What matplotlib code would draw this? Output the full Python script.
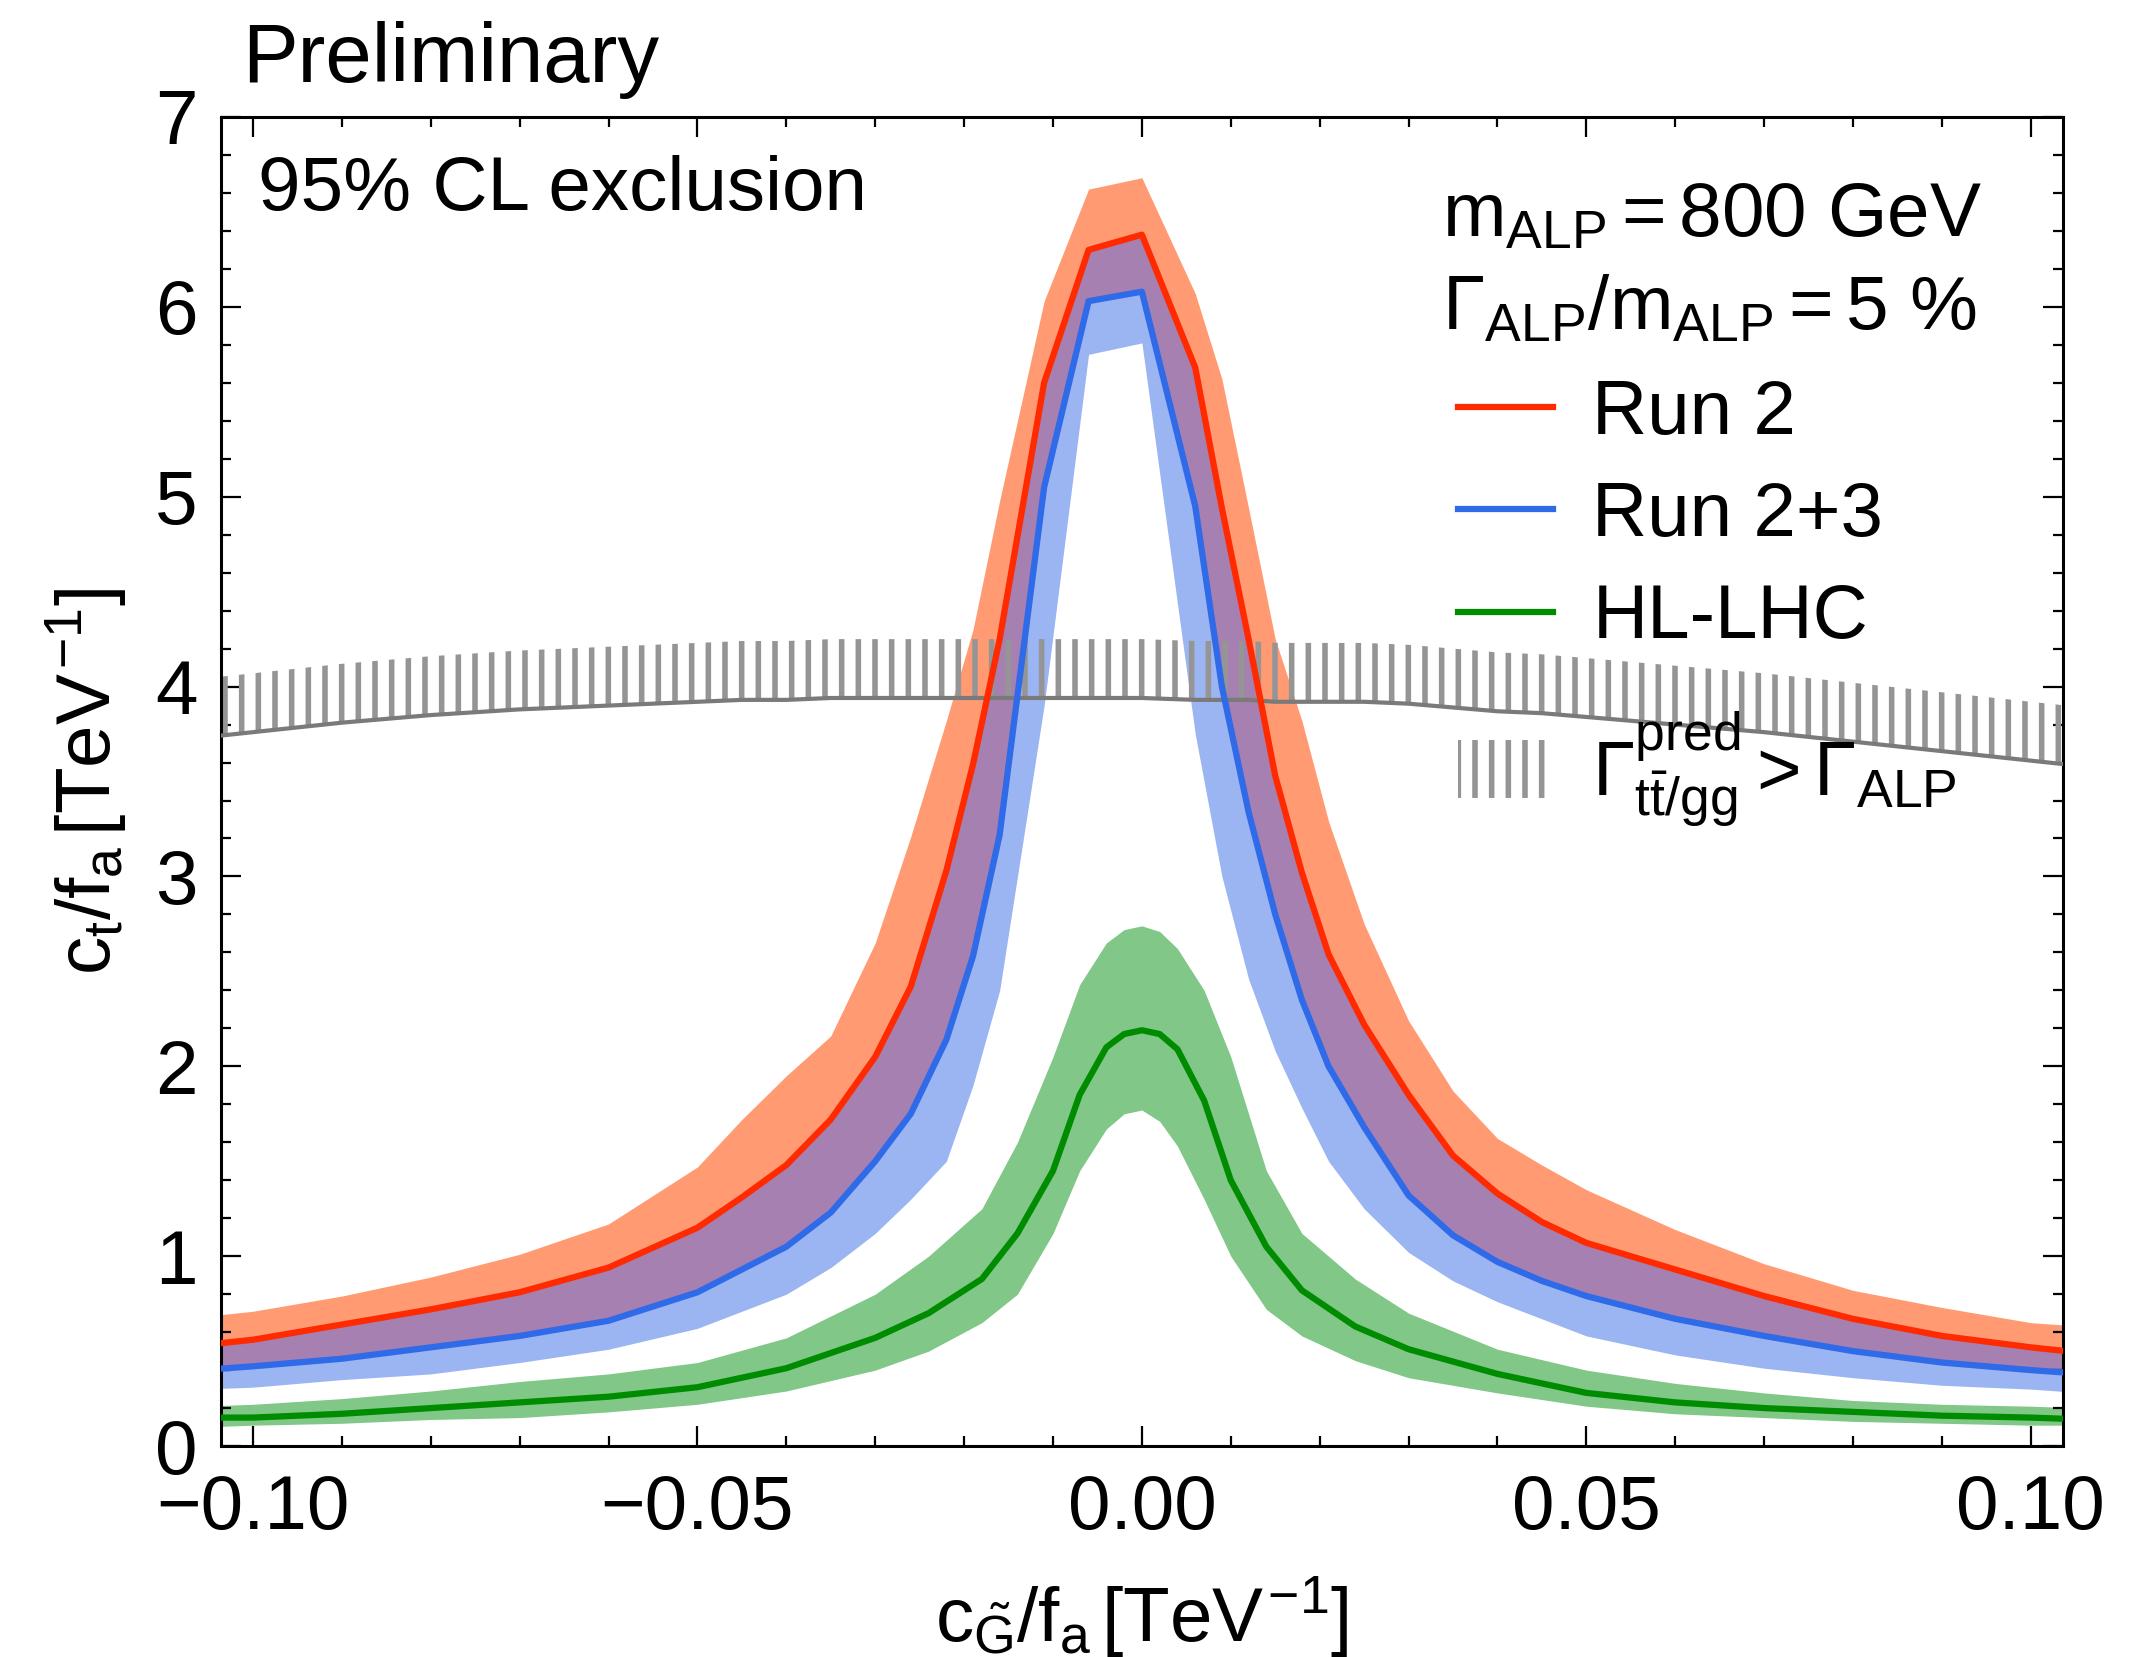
import numpy as np
import matplotlib
matplotlib.use('Agg')
import matplotlib.pyplot as plt
from matplotlib.lines import Line2D
from matplotlib.patches import Patch
from matplotlib.ticker import MultipleLocator, FuncFormatter

plt.rcParams['font.family'] = ['Liberation Sans', 'DejaVu Sans']
plt.rcParams['mathtext.fontset'] = 'custom'
plt.rcParams['mathtext.rm'] = 'Liberation Sans'
plt.rcParams['mathtext.it'] = 'Liberation Sans'
plt.rcParams['mathtext.sf'] = 'Liberation Sans'
plt.rcParams['mathtext.bf'] = 'Liberation Sans:bold'
plt.rcParams['hatch.linewidth'] = 4.0

# c_G/f_a scan points [TeV^-1] for the Run 2 / Run 2+3 limits
cg = [-0.106, -0.10, -0.09, -0.08, -0.07, -0.06, -0.05, -0.045, -0.040, -0.035,
      -0.030, -0.026, -0.022, -0.019, -0.016, -0.011, -0.006, 0.0, 0.006, 0.009,
      0.012, 0.015, 0.018, 0.021, 0.025, 0.030, 0.035, 0.040, 0.045, 0.05,
      0.06, 0.07, 0.08, 0.09, 0.10, 0.106]

# Run 2 expected limit and upper edge of its band
run2 = [0.53, 0.56, 0.64, 0.72, 0.81, 0.94, 1.15, 1.31, 1.48, 1.72,
        2.05, 2.42, 3.03, 3.59, 4.25, 5.60, 6.30, 6.38, 5.68, 4.94,
        4.25, 3.53, 3.02, 2.59, 2.22, 1.85, 1.53, 1.33, 1.18, 1.07,
        0.93, 0.79, 0.67, 0.58, 0.52, 0.49]
run2_up = [0.68, 0.71, 0.79, 0.89, 1.01, 1.17, 1.47, 1.72, 1.95, 2.16,
           2.65, 3.21, 3.82, 4.30, 4.98, 6.03, 6.62, 6.68, 6.07, 5.62,
           4.94, 4.25, 3.82, 3.29, 2.75, 2.24, 1.87, 1.62, 1.48, 1.35,
           1.14, 0.96, 0.82, 0.73, 0.65, 0.63]

# Run 2+3 expected limit and lower edge of its band
run23 = [0.40, 0.42, 0.46, 0.52, 0.58, 0.66, 0.81, 0.93, 1.05, 1.23,
         1.50, 1.75, 2.14, 2.58, 3.22, 5.05, 6.03, 6.08, 4.95, 4.00,
         3.34, 2.80, 2.35, 2.00, 1.68, 1.32, 1.11, 0.97, 0.87, 0.79,
         0.67, 0.58, 0.50, 0.44, 0.40, 0.38]
run23_dn = [0.30, 0.31, 0.35, 0.38, 0.44, 0.51, 0.62, 0.71, 0.80, 0.94,
            1.12, 1.30, 1.50, 1.90, 2.40, 3.90, 5.75, 5.81, 3.75, 3.00,
            2.46, 2.08, 1.78, 1.50, 1.25, 1.02, 0.87, 0.76, 0.67, 0.58,
            0.48, 0.41, 0.36, 0.32, 0.30, 0.28]

# boundary where the predicted ttbar/gg width exceeds the ALP width
width_lim = [3.73, 3.76, 3.81, 3.85, 3.88, 3.90, 3.92, 3.93, 3.93, 3.94,
             3.94, 3.94, 3.94, 3.94, 3.94, 3.94, 3.94, 3.94, 3.93, 3.93,
             3.93, 3.92, 3.92, 3.92, 3.92, 3.91, 3.89, 3.87, 3.86, 3.84,
             3.80, 3.76, 3.71, 3.66, 3.61, 3.58]

# HL-LHC projection (finer scan around the peak)
cg_hl = [-0.106, -0.10, -0.09, -0.08, -0.07, -0.06, -0.05, -0.04, -0.03, -0.024,
         -0.018, -0.014, -0.010, -0.007, -0.004, -0.002, 0.0, 0.002, 0.004, 0.007,
         0.010, 0.014, 0.018, 0.024, 0.03, 0.04, 0.05, 0.06, 0.07, 0.08,
         0.09, 0.10, 0.106]
hl = [0.15, 0.15, 0.17, 0.20, 0.23, 0.26, 0.31, 0.41, 0.57, 0.70,
      0.88, 1.12, 1.45, 1.85, 2.10, 2.17, 2.19, 2.17, 2.09, 1.82,
      1.40, 1.05, 0.82, 0.63, 0.51, 0.38, 0.28, 0.23, 0.20, 0.18,
      0.16, 0.15, 0.14]
hl_up = [0.21, 0.22, 0.25, 0.29, 0.34, 0.38, 0.44, 0.57, 0.80, 1.00,
         1.25, 1.60, 2.05, 2.43, 2.65, 2.72, 2.74, 2.71, 2.62, 2.40,
         2.05, 1.45, 1.12, 0.88, 0.70, 0.51, 0.40, 0.33, 0.28, 0.24,
         0.22, 0.21, 0.20]
hl_dn = [0.10, 0.11, 0.12, 0.14, 0.15, 0.18, 0.22, 0.29, 0.40, 0.50,
         0.65, 0.80, 1.12, 1.45, 1.67, 1.75, 1.77, 1.71, 1.58, 1.30,
         1.00, 0.72, 0.58, 0.45, 0.36, 0.28, 0.21, 0.17, 0.15, 0.13,
         0.12, 0.11, 0.11]

c_red, c_red_band = '#ff2a00', '#ff9a72'
c_blue, c_blue_band = '#2f6ae8', '#9bb5f2'
c_mix = '#a680b0'
c_green, c_green_band = '#008c00', '#80c788'
c_hatch, c_edge = '#959595', '#7a7a7a'
fs = 55

fig, ax = plt.subplots(figsize=(21.31, 16.57), dpi=100)
fig.subplots_adjust(left=0.1037, right=0.968, bottom=0.1273, top=0.9294)

ax.fill_between(cg, run2, run2_up, color=c_red_band, lw=0, zorder=1)
ax.fill_between(cg, run23, run2, color=c_mix, lw=0, zorder=1)
ax.fill_between(cg, run23_dn, run23, color=c_blue_band, lw=0, zorder=1)
ax.fill_between(cg_hl, hl_dn, hl_up, color=c_green_band, lw=0, zorder=1)

wl = np.array(width_lim)
ax.fill_between(cg, wl, wl + 0.31, facecolor='none', edgecolor=c_hatch,
                hatch='|', lw=0, zorder=2)
ax.plot(cg, wl, color=c_edge, lw=3, zorder=3)

ax.plot(cg, run2, color=c_red, lw=4.5, zorder=4)
ax.plot(cg, run23, color=c_blue, lw=4.5, zorder=4)
ax.plot(cg_hl, hl, color=c_green, lw=4.5, zorder=4)

ax.set_xlim(-0.1036, 0.1036)
ax.set_ylim(0, 7)
ax.xaxis.set_major_locator(MultipleLocator(0.05))
ax.xaxis.set_minor_locator(MultipleLocator(0.01))
ax.yaxis.set_major_locator(MultipleLocator(1))
ax.yaxis.set_minor_locator(MultipleLocator(0.2))


def fmt_x(v, pos):
    if abs(v) < 1e-9:
        v = 0.0
    return f'{v:.2f}'.replace('-', '\u2212')


ax.xaxis.set_major_formatter(FuncFormatter(fmt_x))
ax.tick_params(which='both', direction='in', top=True, right=True,
               width=1.6, labelsize=fs)
ax.tick_params(which='major', length=14.5)
ax.tick_params(which='minor', length=7.5)
ax.tick_params(axis='x', pad=20)
ax.tick_params(axis='y', pad=17)
for s in ax.spines.values():
    s.set_linewidth(2.2)

ax.set_xlabel(r'$c_{\tilde{G}}/f_a\,[TeV^{-1}]$', fontsize=fs)
ax.set_ylabel(r'$c_t/f_a\,[TeV^{-1}]$', fontsize=fs)
ax.xaxis.set_label_coords(0.5, -0.097)
ax.yaxis.set_label_coords(-0.050, 0.5)

fig.text(0.1136, 0.9505, 'Preliminary', fontsize=60, va='baseline')
ax.text(0.020, 0.945, '95% CL exclusion', transform=ax.transAxes,
        fontsize=fs, va='center')
ax.text(0.663, 0.925, r'$m_{ALP} = 800\ GeV$', transform=ax.transAxes,
        fontsize=fs, va='center')
ax.text(0.663, 0.855, r'$\Gamma_{ALP}/m_{ALP} = 5\ \%$', transform=ax.transAxes,
        fontsize=fs, va='center')

line_handles = [Line2D([], [], color=c_red, lw=4.5),
                Line2D([], [], color=c_blue, lw=4.5),
                Line2D([], [], color=c_green, lw=4.5)]
leg = ax.legend(line_handles, ['Run 2', 'Run 2+3', 'HL-LHC'], loc='upper left',
                bbox_to_anchor=(0.6716, 0.803), frameon=False, borderpad=0,
                borderaxespad=0, handlelength=1.24, handletextpad=0.52,
                labelspacing=0.41, fontsize=fs)
ax.add_artist(leg)

hatch_handle = Patch(facecolor='none', edgecolor=c_hatch, hatch='|', lw=0)
ax.legend([hatch_handle], [r'$\Gamma^{pred}_{t\bar{t}/gg} > \Gamma_{ALP}$'],
          loc='center left', bbox_to_anchor=(0.6716, 0.509), frameon=False,
          borderpad=0, borderaxespad=0, handlelength=1.24, handleheight=0.8,
          handletextpad=0.52, fontsize=fs)

fig.savefig('out.png', dpi=100)
